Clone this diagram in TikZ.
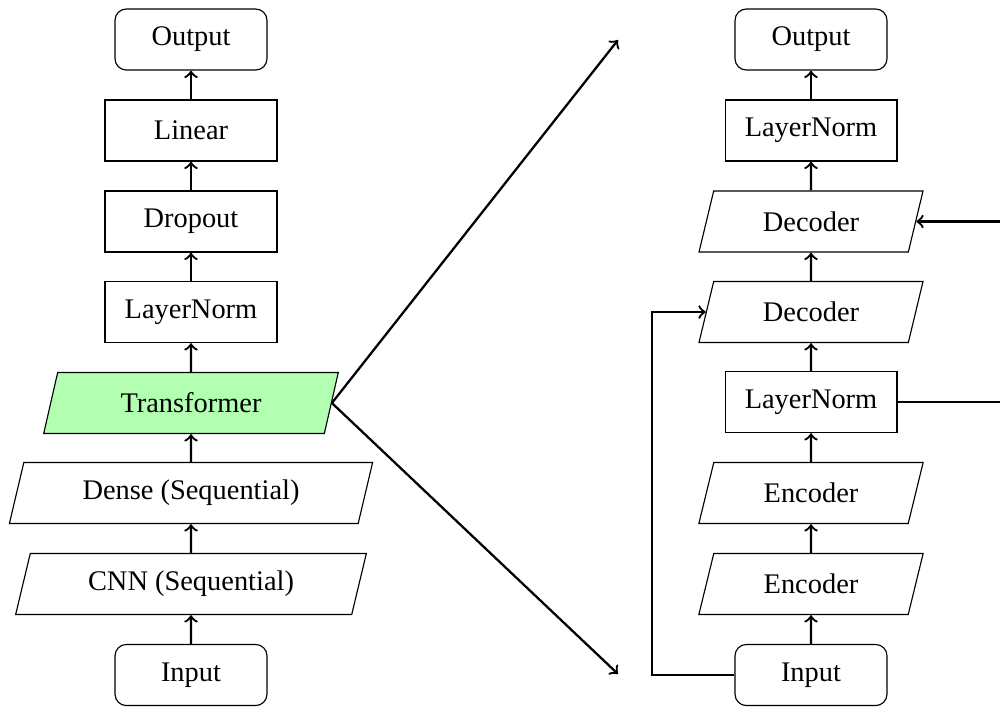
\documentclass[tikz,border=0pt]{standalone}
\usepackage{fontspec}
\setmainfont{Liberation Serif}
\usetikzlibrary{shapes.geometric}
\tikzset{
  block/.style={draw, rectangle, minimum width=60.5pt, minimum height=21.5pt, inner sep=0pt},
  endbox/.style={draw, rectangle, rounded corners=4pt, minimum width=53.5pt, minimum height=21.5pt, inner sep=0pt},
  layer/.style={draw, trapezium, trapezium left angle=70, trapezium right angle=110,
    trapezium stretches=true, minimum height=21.5pt, inner sep=0pt},
  hilite/.style={fill=green!30},
  flow/.style={->, thick}
}
\begin{document}
\begin{tikzpicture}[x=0.352pt, y=-0.352pt]
  \useasboundingbox (0,0) rectangle (1000,706);

  % main pipeline
  \node[endbox] (in)   at (191,675) {Input};
  \node[layer, minimum width=124pt] (cnn) at (191,584) {CNN (Sequential)};
  \node[layer, minimum width=128.5pt] (dense) at (191,493) {Dense (Sequential)};
  \node[layer, hilite, minimum width=104pt] (tr) at (191,403) {Transformer};
  \node[block]  (ln)   at (191,312) {LayerNorm};
  \node[block]  (drop) at (191,221.5) {Dropout};
  \node[block]  (lin)  at (191,130.5) {Linear};
  \node[endbox] (out)  at (191,39.5) {Output};

  \draw[flow] (in) -- (cnn);
  \draw[flow] (cnn) -- (dense);
  \draw[flow] (dense) -- (tr);
  \draw[flow] (tr) -- (ln);
  \draw[flow] (ln) -- (drop);
  \draw[flow] (drop) -- (lin);
  \draw[flow] (lin) -- (out);

  % transformer detail
  \node[endbox] (tin)   at (811,675) {Input};
  \node[layer, minimum width=79pt] (enc1) at (811,584) {Encoder};
  \node[layer, minimum width=79pt] (enc2) at (811,493) {Encoder};
  \node[block]  (tln1)  at (811,402) {LayerNorm};
  \node[layer, minimum width=79pt] (dec1) at (811,312) {Decoder};
  \node[layer, minimum width=79pt] (dec2) at (811,221.5) {Decoder};
  \node[block]  (tln2)  at (811,130.5) {LayerNorm};
  \node[endbox] (tout)  at (811,39.5) {Output};

  \draw[flow] (tin) -- (enc1);
  \draw[flow] (enc1) -- (enc2);
  \draw[flow] (enc2) -- (tln1);
  \draw[flow] (tln1) -- (dec1);
  \draw[flow] (dec1) -- (dec2);
  \draw[flow] (dec2) -- (tln2);
  \draw[flow] (tln2) -- (tout);

  % skip connections
  \coordinate (skipL) at (652,675);
  \coordinate (skipR) at (1015,402);
  \draw[flow] (tin.west) -- (skipL) |- (dec1.west);
  \draw[flow] (tln1.east) -- (skipR) |- (dec2.east);

  % zoom-out lines from the transformer block
  \coordinate (zoomTop) at (618,40);
  \coordinate (zoomBot) at (618,674);
  \draw[flow] (tr.east) -- (zoomTop);
  \draw[flow] (tr.east) -- (zoomBot);
\end{tikzpicture}
\end{document}
